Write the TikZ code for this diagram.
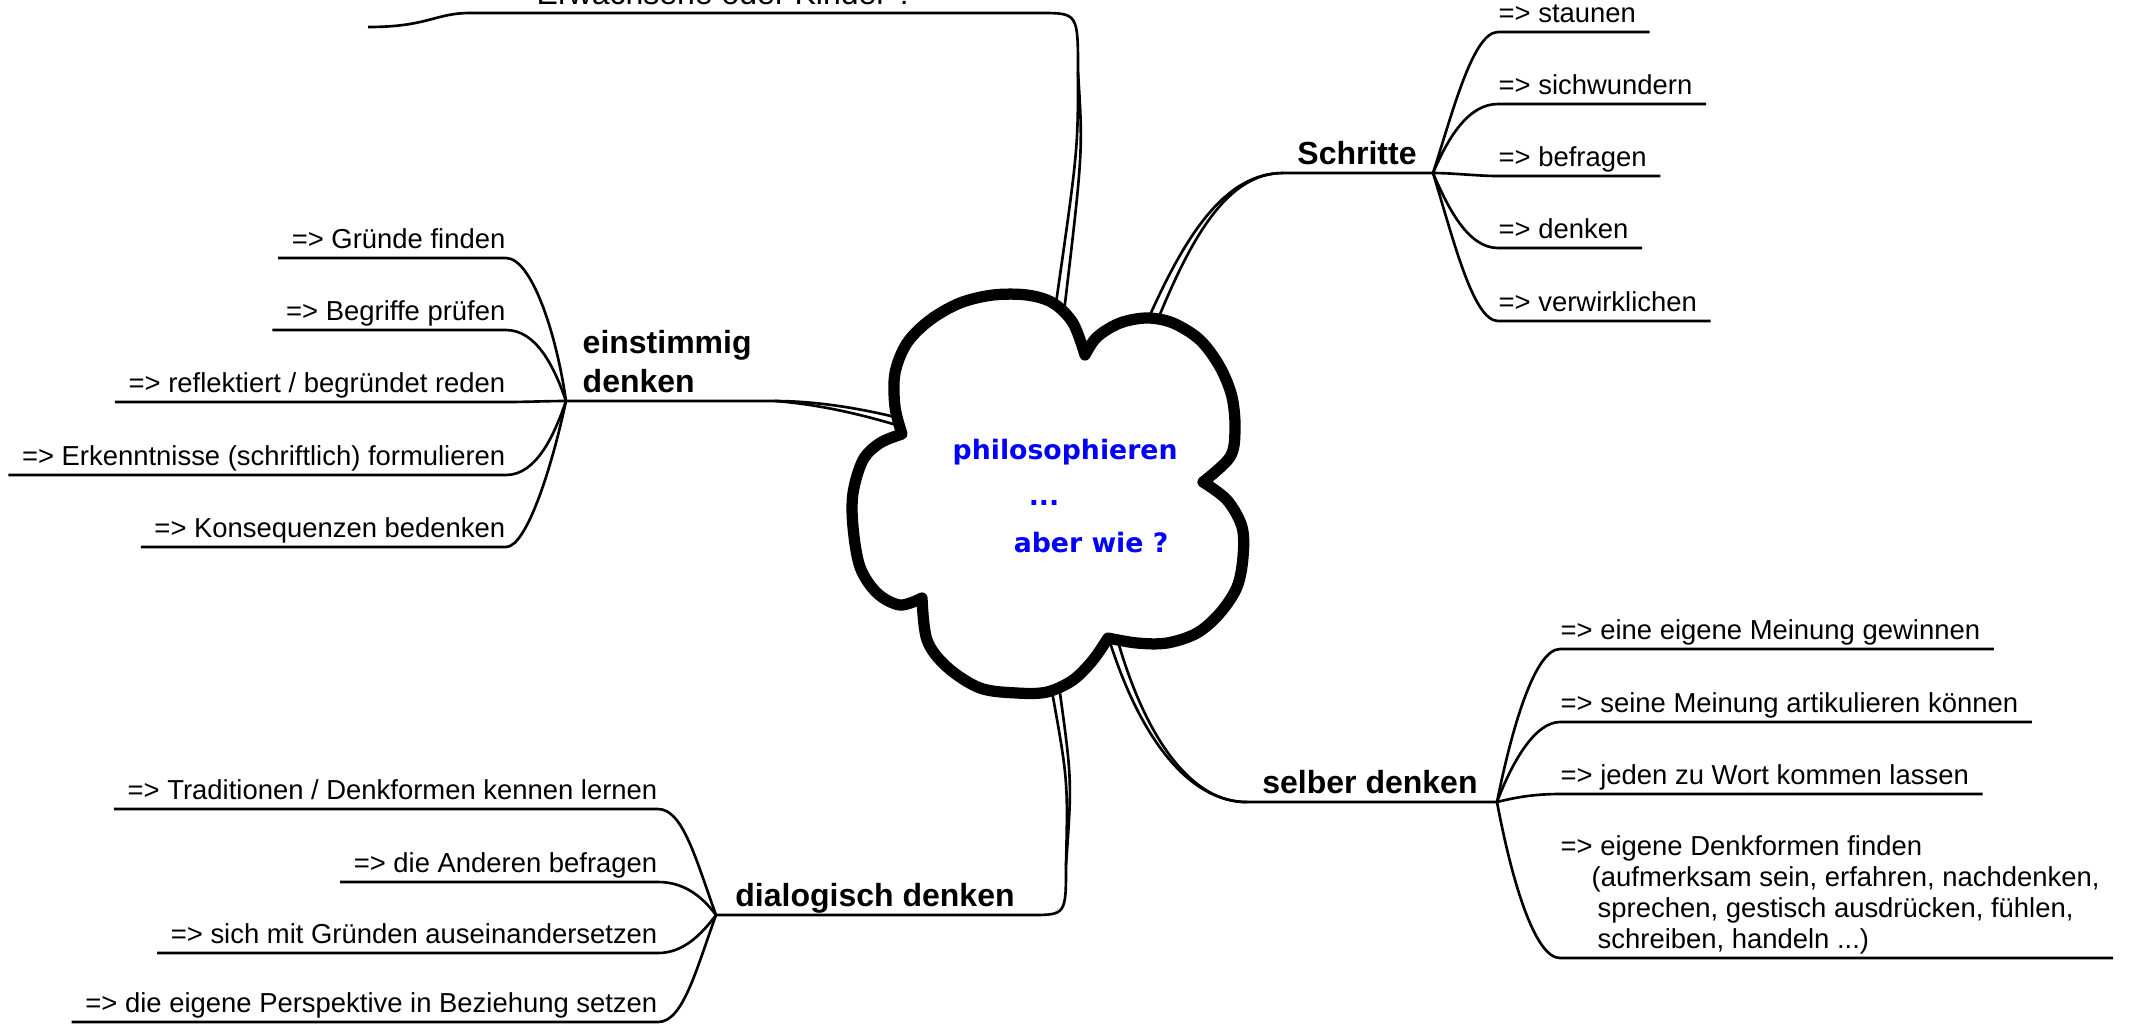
\documentclass[tikz,border=0pt]{standalone}
\usepackage{fontspec}
\setmainfont{Liberation Sans}
\newfontfamily\cloudfont{DejaVu Sans}

\begin{document}
\begin{tikzpicture}[x=0.01cm, y=-0.01cm,
    leaf/.style={font=\fontsize{7.8}{8.8}\selectfont, inner xsep=0pt,
                 inner ysep=0.09cm, text depth=0pt},
    topic/.style={font=\fontsize{9.1}{11.1}\selectfont\bfseries, inner xsep=0pt,
                  inner ysep=0.08cm, text depth=0pt},
    twig/.style={line width=0.75pt},
    cloudline/.style={line width=3.2pt, line join=round, fill=white}]
  \path[use as bounding box, clip] (0,0) rectangle (2136,1026);
  % junctions and ends of the main branches
  \coordinate (topJ)  at (470,13);
  \coordinate (topR)  at (1040,13);
  \coordinate (stub)  at (368,27);
  \coordinate (schrL) at (1283,173);
  \coordinate (schrJ) at (1433,173);
  \coordinate (einJ)  at (566,401);
  \coordinate (einR)  at (775,401);
  \coordinate (selL)  at (1247,802);
  \coordinate (selJ)  at (1497,802);
  \coordinate (diaJ)  at (716,915);
  \coordinate (diaR)  at (1030,915);
  % where the branches leave the cloud
  \coordinate (cT1) at (1055,310); \coordinate (cT2) at (1064,312);
  \coordinate (cS1) at (1146,324); \coordinate (cS2) at (1156,324);
  \coordinate (cE1) at (903,419);  \coordinate (cE2) at (906,428);
  \coordinate (cB1) at (1108,636); \coordinate (cB2) at (1117,638);
  \coordinate (cD1) at (1051,686); \coordinate (cD2) at (1059,686);

  % main branch labels
  \node[topic, font=\fontsize{9.1}{11.1}\selectfont, anchor=south west] (erw) at (536,13) {Erwachsene oder Kinder ?};
  \node[topic, anchor=south] (schritte) at (1357,173) {Schritte};
  \node[topic, anchor=south west, align=left] (einst) at (582,401) {einstimmig\\denken};
  \node[topic, anchor=south] (selber) at (1370,802) {selber denken};
  \node[topic, anchor=south] (dialog) at (875,915) {dialogisch denken};

  % main branches (two strokes that run together)
  \draw[twig] (cT1) .. controls (1078,150) .. (1078,72) .. controls (1078,13) .. (topR) -- (topJ);
  \draw[twig] (cT2) .. controls (1083,151) .. (1078,72);
  \draw[twig] (topJ) .. controls +(-35,0) and +(60,0) .. (stub);
  \draw[twig] (cS1) .. controls (1185,235) and (1225,173) .. (schrL) -- (schrJ);
  \draw[twig] (cS2) .. controls (1192,235) and (1228,173) .. (schrL);
  \draw[twig] (cE1) .. controls (860,408) and (815,401) .. (einR) -- (einJ);
  \draw[twig] (cE2) .. controls (862,414) and (816,404) .. (einR);
  \draw[twig] (cB1) .. controls (1140,740) and (1190,802) .. (selL) -- (selJ);
  \draw[twig] (cB2) .. controls (1146,741) and (1193,803) .. (selL);
  \draw[twig] (cD1) .. controls (1068,780) .. (1066,865) .. controls (1066,915) .. (diaR) -- (diaJ);
  \draw[twig] (cD2) .. controls (1072,780) .. (1066,865);

  % Schritte
  \node[leaf, anchor=south west] (s1) at (1498,32)  {=> staunen};
  \node[leaf, anchor=south west] (s2) at (1498,104) {=> sichwundern};
  \node[leaf, anchor=south west] (s3) at (1498,176) {=> befragen};
  \node[leaf, anchor=south west] (s4) at (1498,248) {=> denken};
  \node[leaf, anchor=south west] (s5) at (1498,321) {=> verwirklichen};
  \draw[twig] (schrJ) .. controls +(20,-62) and +(-25,0) .. (s1.south west) -- ([xshift=0.13cm]s1.south east);
  \draw[twig] (schrJ) .. controls +(15,-35) and +(-30,0) .. (s2.south west) -- ([xshift=0.13cm]s2.south east);
  \draw[twig] (schrJ) .. controls +(20,0) and +(-20,0) .. (s3.south west) -- ([xshift=0.13cm]s3.south east);
  \draw[twig] (schrJ) .. controls +(15,35) and +(-30,0) .. (s4.south west) -- ([xshift=0.13cm]s4.south east);
  \draw[twig] (schrJ) .. controls +(20,65) and +(-25,0) .. (s5.south west) -- ([xshift=0.13cm]s5.south east);

  % einstimmig denken
  \node[leaf, anchor=south east] (e1) at (506,258) {=> Gründe finden};
  \node[leaf, anchor=south east] (e2) at (506,330) {=> Begriffe prüfen};
  \node[leaf, anchor=south east] (e3) at (506,402) {=> reflektiert / begründet reden};
  \node[leaf, anchor=south east] (e4) at (506,475) {=> Erkenntnisse (schriftlich) formulieren};
  \node[leaf, anchor=south east] (e5) at (506,547) {=> Konsequenzen bedenken};
  \draw[twig] (einJ) .. controls +(-10,-70) and +(25,0) .. (e1.south east) -- ([xshift=-0.13cm]e1.south west);
  \draw[twig] (einJ) .. controls +(-12,-35) and +(30,0) .. (e2.south east) -- ([xshift=-0.13cm]e2.south west);
  \draw[twig] (einJ) .. controls +(-20,0) and +(20,0) .. (e3.south east) -- ([xshift=-0.13cm]e3.south west);
  \draw[twig] (einJ) .. controls +(-12,35) and +(30,0) .. (e4.south east) -- ([xshift=-0.13cm]e4.south west);
  \draw[twig] (einJ) .. controls +(-15,70) and +(20,0) .. (e5.south east) -- ([xshift=-0.13cm]e5.south west);

  % selber denken
  \node[leaf, anchor=south west] (b1) at (1560,649) {=> eine eigene Meinung gewinnen};
  \node[leaf, anchor=south west] (b2) at (1560,722) {=> seine Meinung artikulieren können};
  \node[leaf, anchor=south west] (b3) at (1560,794) {=> jeden zu Wort kommen lassen};
  \node[leaf, anchor=south west, align=left] (b4) at (1560,958)
       {=> eigene Denkformen finden\\\hspace{0.31cm}(aufmerksam sein, erfahren, nachdenken,\\
        \hspace{0.37cm}sprechen, gestisch ausdrücken, fühlen,\\\hspace{0.37cm}schreiben, handeln ...)};
  \draw[twig] (selJ) .. controls +(15,-75) and +(-25,0) .. (b1.south west) -- ([xshift=0.13cm]b1.south east);
  \draw[twig] (selJ) .. controls +(15,-40) and +(-25,0) .. (b2.south west) -- ([xshift=0.13cm]b2.south east);
  \draw[twig] (selJ) .. controls +(20,-5) and +(-25,0) .. (b3.south west) -- ([xshift=0.13cm]b3.south east);
  \draw[twig] (selJ) .. controls +(15,80) and +(-25,0) .. (b4.south west) -- ([xshift=0.13cm]b4.south east);

  % dialogisch denken
  \node[leaf, anchor=south east] (d1) at (658,809)  {=> Traditionen / Denkformen kennen lernen};
  \node[leaf, anchor=south east] (d2) at (658,882)  {=> die Anderen befragen};
  \node[leaf, anchor=south east] (d3) at (658,953)  {=> sich mit Gründen auseinandersetzen};
  \node[leaf, anchor=south east] (d4) at (658,1022) {=> die eigene Perspektive in Beziehung setzen};
  \draw[twig] (diaJ) .. controls +(-20,-55) and +(25,0) .. (d1.south east) -- ([xshift=-0.13cm]d1.south west);
  \draw[twig] (diaJ) .. controls +(-15,-20) and +(25,0) .. (d2.south east) -- ([xshift=-0.13cm]d2.south west);
  \draw[twig] (diaJ) .. controls +(-15,20) and +(25,0) .. (d3.south east) -- ([xshift=-0.13cm]d3.south west);
  \draw[twig] (diaJ) .. controls +(-20,55) and +(25,0) .. (d4.south east) -- ([xshift=-0.13cm]d4.south west);

  % the cloud in the middle
  \draw[cloudline]
    plot[smooth, tension=0.55] coordinates {(902,434) (895,407) (895,373) (907,343) (930,320) (960,303)
      (993,295) (1027,295) (1053,303) (1073,323) (1085,355)}
    -- plot[smooth, tension=0.55] coordinates {(1085,355) (1097,337) (1120,323) (1147,318) (1173,323)
      (1200,340) (1220,367) (1232,397) (1235,430) (1230,457) (1203,482)}
    -- plot[smooth, tension=0.55] coordinates {(1203,482) (1227,500) (1242,527) (1243,557) (1237,587)
      (1220,613) (1197,633) (1167,643) (1137,643) (1108,638)}
    -- plot[smooth, tension=0.55] coordinates {(1108,638) (1093,660) (1073,680) (1047,692) (1017,693)
      (980,688) (947,667) (927,640) (922,598)}
    -- plot[smooth, tension=0.55] coordinates {(922,598) (900,605) (877,593) (860,567) (853,527)
      (853,493) (863,460) (880,443) (902,434)}
    -- cycle;
  \node[font=\cloudfont\bfseries\fontsize{7.6}{13.1}\selectfont, text=blue, align=left,
        inner sep=0pt, anchor=base west] (centre) at (952,552)
       {philosophieren\\\hspace{0.76cm}...\\\hspace{0.61cm}aber wie ?};
\end{tikzpicture}
\end{document}
